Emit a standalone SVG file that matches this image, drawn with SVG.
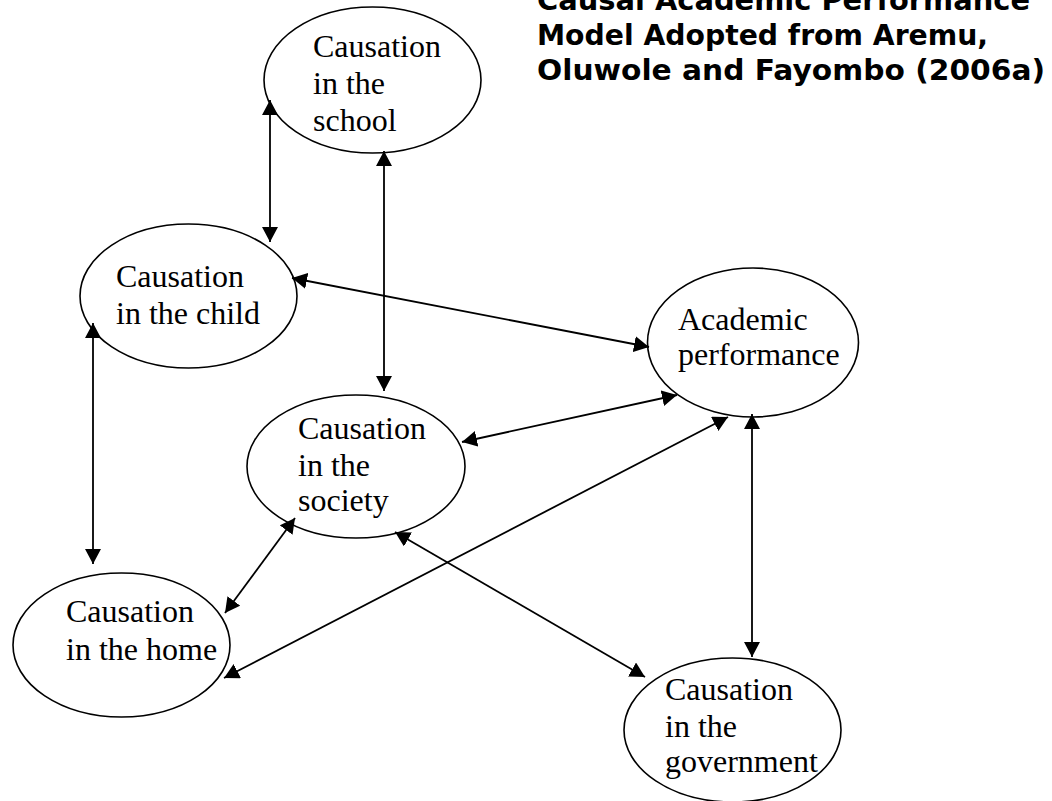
<svg xmlns="http://www.w3.org/2000/svg" width="1052" height="801" viewBox="0 0 1052 801">
<style>
.node ellipse{fill:#fff;stroke:#000;stroke-width:1.6}
.node text{font-family:"Liberation Serif","Times New Roman",serif;font-size:32px;fill:#000}
.title text{font-family:"DejaVu Sans",Verdana,sans-serif;font-weight:bold;font-size:29px;fill:#000}
#connectors line{stroke:#000;stroke-width:1.8;marker-start:url(#ah);marker-end:url(#ah)}
</style>
<defs>
<marker id="ah" markerUnits="userSpaceOnUse" markerWidth="16" markerHeight="16" refX="15" refY="8" orient="auto-start-reverse">
<path d="M0,0 L15,8 L0,16 z" fill="#000"/>
</marker>
</defs>
<rect width="1052" height="801" fill="#fff"/>
<g class="title" id="title">
<text x="537" y="10" textLength="493" lengthAdjust="spacingAndGlyphs">Causal Academic Performance</text>
<text x="537" y="45" textLength="451" lengthAdjust="spacingAndGlyphs">Model Adopted from Aremu,</text>
<text x="537" y="80" textLength="508" lengthAdjust="spacingAndGlyphs">Oluwole and Fayombo (2006a)</text>
</g>
<g id="node-school" class="node">
<ellipse cx="372.5" cy="80" rx="108.5" ry="73"/>
<text x="313" y="57">Causation</text>
<text x="313" y="94">in the</text>
<text x="313" y="131">school</text>
</g>
<g id="node-child" class="node">
<ellipse cx="188.5" cy="296" rx="108.5" ry="72"/>
<text x="116" y="287">Causation</text>
<text x="116" y="324">in the child</text>
</g>
<g id="node-academic" class="node">
<ellipse cx="753" cy="342.5" rx="105.5" ry="74.5"/>
<text x="678" y="330">Academic</text>
<text x="678" y="365">performance</text>
</g>
<g id="node-society" class="node">
<ellipse cx="356" cy="466.5" rx="109" ry="71.5"/>
<text x="298" y="439">Causation</text>
<text x="298" y="476">in the</text>
<text x="298" y="511">society</text>
</g>
<g id="node-home" class="node">
<ellipse cx="121.5" cy="645" rx="108.5" ry="72"/>
<text x="66" y="622">Causation</text>
<text x="66" y="660">in the home</text>
</g>
<g id="node-government" class="node">
<ellipse cx="732.5" cy="730" rx="108.5" ry="72"/>
<text x="665" y="700">Causation</text>
<text x="665" y="737">in the</text>
<text x="665" y="772">government</text>
</g>
<g id="connectors">
<line x1="270" y1="100" x2="270" y2="242"/>
<line x1="384" y1="151" x2="384" y2="391"/>
<line x1="292" y1="278" x2="649" y2="347"/>
<line x1="93" y1="323" x2="93" y2="564"/>
<line x1="462" y1="442" x2="677" y2="395"/>
<line x1="224" y1="678" x2="728" y2="417"/>
<line x1="295" y1="518" x2="225" y2="613"/>
<line x1="395" y1="532" x2="645" y2="677"/>
<line x1="752" y1="414" x2="752" y2="657"/>
</g>
</svg>
